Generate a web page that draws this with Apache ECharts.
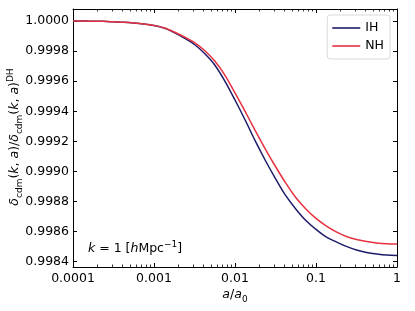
<!DOCTYPE html>
<html><head><meta charset="utf-8">
<script src="https://cdn.jsdelivr.net/npm/echarts@6/dist/echarts.min.js"></script>
<style>html,body{margin:0;padding:0;background:#fff}#c{width:415px;height:311px}</style>
</head><body><div id="c"></div>
<script>
const aValues = [
  1e-4, 1.334e-4, 1.778e-4, 2.371e-4, 3.162e-4, 4.217e-4, 5.623e-4, 7.499e-4,
  1e-3, 1.334e-3, 1.778e-3, 2.371e-3, 3.162e-3, 4.217e-3, 5.623e-3, 7.499e-3,
  1e-2, 1.334e-2, 1.778e-2, 2.371e-2, 3.162e-2, 4.217e-2, 5.623e-2, 7.499e-2,
  0.1, 0.1334, 0.1778, 0.2371, 0.3162, 0.4217, 0.5623, 0.7499, 1
];
const ihValues = [
  1.000000, 1.000000, 0.999999, 0.999998, 0.999995, 0.999992, 0.999987, 0.999980,
  0.999970, 0.999953, 0.999924, 0.999887, 0.999844, 0.999784, 0.999708, 0.999601,
  0.999475, 0.999342, 0.999203, 0.999073, 0.998953, 0.998841, 0.998751, 0.998674,
  0.998615, 0.998565, 0.998532, 0.998502, 0.998478, 0.998462, 0.998452, 0.998445, 0.998442
];
const nhValues = [
  1.000000, 1.000000, 0.999999, 0.999998, 0.999995, 0.999992, 0.999987, 0.999980,
  0.999970, 0.999955, 0.999927, 0.999894, 0.999857, 0.999804, 0.999734, 0.999641,
  0.999522, 0.999399, 0.999272, 0.999149, 0.999033, 0.998924, 0.998827, 0.998751,
  0.998688, 0.998638, 0.998598, 0.998568, 0.998548, 0.998534, 0.998525, 0.998520, 0.998518
];
const seriesNames = ['IH', 'NH'];
const seriesColors = ['#1c1c6b', '#e63240'];
const xTicks = [0.0001, 0.001, 0.01, 0.1, 1];
const xTickLabels = ['0.0001', '0.001', '0.01', '0.1', '1'];
const yTicks = [0.9984, 0.9986, 0.9988, 0.9990, 0.9992, 0.9994, 0.9996, 0.9998, 1.0000];
const xMinorTicks = [];
for (let n = -4; n < 0; n++) for (let k = 2; k <= 9; k++) xMinorTicks.push(k * Math.pow(10, n));

const FONT = '"DejaVu Sans", sans-serif';
const FS = 12.5;
const chart = echarts.init(document.getElementById('c'), null, {renderer: 'canvas'});
const grid = {left: 73, top: 9, right: 18, bottom: 44};
const xBase = {
  type: 'log', logBase: 10, min: 0.0001, max: 1,
  splitLine: {show: false},
  axisLine: {show: true, onZero: false, lineStyle: {color: '#000', width: 1}},
  axisTick: {show: true, inside: true, length: 4, customValues: xTicks, lineStyle: {color: '#000', width: 1}},
  minorTick: {show: false},
  minorSplitLine: {show: false}
};
const yBase = {
  type: 'value', min: 0.998365, max: 1.00008, scale: true,
  splitLine: {show: false},
  axisLine: {show: true, onZero: false, lineStyle: {color: '#000', width: 1}},
  axisTick: {show: true, inside: true, length: 4, customValues: yTicks, lineStyle: {color: '#000', width: 1}}
};
function xLabel(v) {
  const i = Math.round(Math.log10(v)) + 4;
  return xTickLabels[i] !== undefined ? xTickLabels[i] : '';
}
const option = {
  animation: false,
  backgroundColor: '#fff',
  grid: grid,
  xAxis: [
    Object.assign({}, xBase, {position: 'bottom',
      axisLabel: {show: true, customValues: xTicks, formatter: xLabel, color: '#000', fontFamily: FONT, fontSize: FS, margin: 5}}),
    Object.assign({}, xBase, {position: 'top', axisLabel: {show: false}})
  ],
  yAxis: [
    Object.assign({}, yBase, {position: 'left',
      axisLabel: {show: true, customValues: yTicks, formatter: v => v.toFixed(4), color: '#000', fontFamily: FONT, fontSize: FS, margin: 4}}),
    Object.assign({}, yBase, {position: 'right', axisLabel: {show: false}})
  ],
  legend: {
    orient: 'vertical', right: 25, top: 15,
    data: seriesNames.map((n, i) => ({name: n, icon: 'rect', itemStyle: {color: seriesColors[i]}})),
    itemWidth: 28, itemHeight: 1.6, itemGap: 4, padding: [6, 6, 6, 5],
    borderColor: '#d9d9d9', borderWidth: 1, borderRadius: 3, backgroundColor: 'rgba(255,255,255,0.85)',
    textStyle: {color: '#000', fontFamily: FONT, fontSize: FS, lineHeight: 14}
  },
  series: [
    {name: seriesNames[0], type: 'line', data: aValues.map((a, i) => [a, ihValues[i]]), symbol: 'none', showSymbol: false,
     smooth: 0.3,
     lineStyle: {color: seriesColors[0], width: 1.5}, itemStyle: {color: seriesColors[0]}, z: 3},
    {name: seriesNames[1], type: 'line', data: aValues.map((a, i) => [a, nhValues[i]]), symbol: 'none', showSymbol: false,
     smooth: 0.3,
     lineStyle: {color: seriesColors[1], width: 1.5}, itemStyle: {color: seriesColors[1]}, z: 3},
    {name: 'minor', type: 'custom', silent: true, clip: false, z: 5,
     data: xMinorTicks.map(v => [v, 1]),
     renderItem: function (params, api) {
       const p = api.coord([api.value(0), 1]);
       const cs = params.coordSys;
       const x = Math.round(p[0]) + 0.5;
       const b = cs.y + cs.height, t = cs.y;
       return {type: 'group', children: [
         {type: 'line', shape: {x1: x, y1: b, x2: x, y2: b - 2.5}, style: {stroke: '#000', lineWidth: 0.8}},
         {type: 'line', shape: {x1: x, y1: t, x2: x, y2: t + 2.5}, style: {stroke: '#000', lineWidth: 0.8}}
       ]};
     }}
  ],
  graphic: [
    {type: 'text', left: 88, top: 240, z: 10,
     style: {text: '{i|k}{n| = 1 [}{i|h}{n|Mpc}{p|−1}{n|]}', font: FS + 'px ' + FONT,
       rich: {
         n: {fontFamily: FONT, fontSize: FS, lineHeight: 18, fill: '#000'},
         i: {fontFamily: FONT, fontSize: FS, fontStyle: 'italic', lineHeight: 18, fill: '#000'},
         p: {fontFamily: FONT, fontSize: 9, lineHeight: 10, verticalAlign: 'top', fill: '#000'}
       }}},
    {type: 'text', x: 235, y: 295, z: 10,
     style: {text: '{i|a}{n|/}{i|a}{s|0}', align: 'center', verticalAlign: 'middle',
       rich: {
         n: {fontFamily: FONT, fontSize: FS, lineHeight: 18, fill: '#000'},
         i: {fontFamily: FONT, fontSize: FS, fontStyle: 'italic', lineHeight: 18, fill: '#000'},
         s: {fontFamily: FONT, fontSize: 9, lineHeight: 10, verticalAlign: 'bottom', fill: '#000'}
       }}},
    {type: 'text', x: 15, y: 137, rotation: Math.PI / 2, z: 10,
     style: {text: '{i|δ}{s|cdm}{n|(}{i|k}{n|, }{i|a}{n|)/}{i|δ}{s|cdm}{n|(}{i|k}{n|, }{i|a}{n|)}{p|DH}',
       align: 'center', verticalAlign: 'middle',
       rich: {
         n: {fontFamily: FONT, fontSize: FS, lineHeight: 18, fill: '#000'},
         i: {fontFamily: FONT, fontSize: FS, fontStyle: 'italic', lineHeight: 18, fill: '#000'},
         s: {fontFamily: FONT, fontSize: 9, lineHeight: 10, verticalAlign: 'bottom', fill: '#000'},
         p: {fontFamily: FONT, fontSize: 9, lineHeight: 10, verticalAlign: 'top', fill: '#000'}
       }}}
  ]
};
chart.setOption(option);
</script></body></html>
